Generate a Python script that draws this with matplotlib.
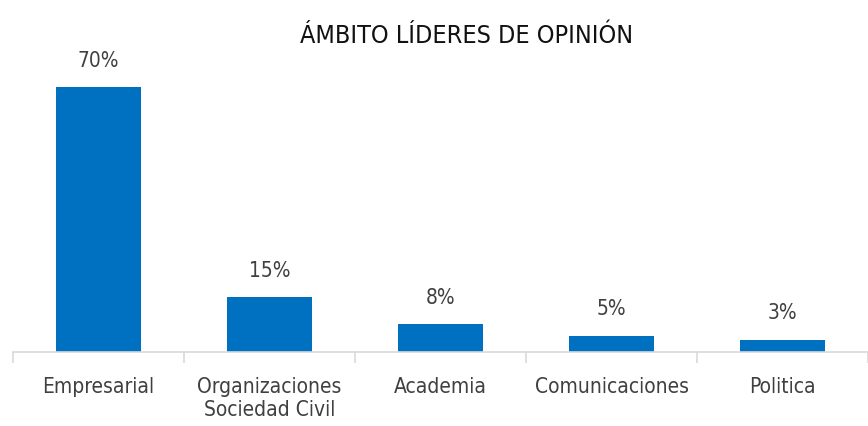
import matplotlib
matplotlib.use("Agg")
import matplotlib.pyplot as plt
import numpy as np

categories = ["Empresarial", "Organizaciones\nSociedad Civil", "Academia",
              "Comunicaciones", "Politica"]
values = [70, 14.5, 7.4, 4.3, 3.2]
labels = ["70%", "15%", "8%", "5%", "3%"]

plt.rcParams['font.family'] = ['DejaVu Sans']
plt.rcParams['font.stretch'] = 'condensed'

fig = plt.figure(figsize=(8.68, 4.26), dpi=100)
ax = fig.add_axes([0.015, 0.174, 0.985, 0.685])

x = np.arange(len(categories))
bars = ax.bar(x, values, width=0.5, color='#0070c0')

for xi, v, lab in zip(x, values, labels):
    ax.text(xi, v + 4.3, lab, ha='center', va='bottom', fontsize=15,
            color='#404040', stretch='condensed')

ax.set_xlim(-0.5, len(categories) - 0.5)
ax.set_ylim(0, 77.1)

for s in ['top', 'right', 'left']:
    ax.spines[s].set_visible(False)
ax.spines['bottom'].set_color('#d9d9d9')
ax.spines['bottom'].set_linewidth(1.2)
ax.set_yticks([])

# ticks at category boundaries, labels at centres
ax.set_xticks(np.arange(len(categories) + 1) - 0.5)
ax.set_xticklabels([])
ax.tick_params(axis='x', which='major', length=8, width=1.2, color='#d9d9d9')
ax.set_xticks(x, minor=True)
ax.set_xticklabels(categories, minor=True, fontsize=15, color='#404040',
                   stretch='condensed')
ax.tick_params(axis='x', which='minor', length=0, pad=18)

fig.text(0.537, 0.916, "ÁMBITO LÍDERES DE OPINIÓN", ha='center', va='center',
         fontsize=18, color='#111111', stretch='condensed')

plt.savefig("out.png", dpi=100)
